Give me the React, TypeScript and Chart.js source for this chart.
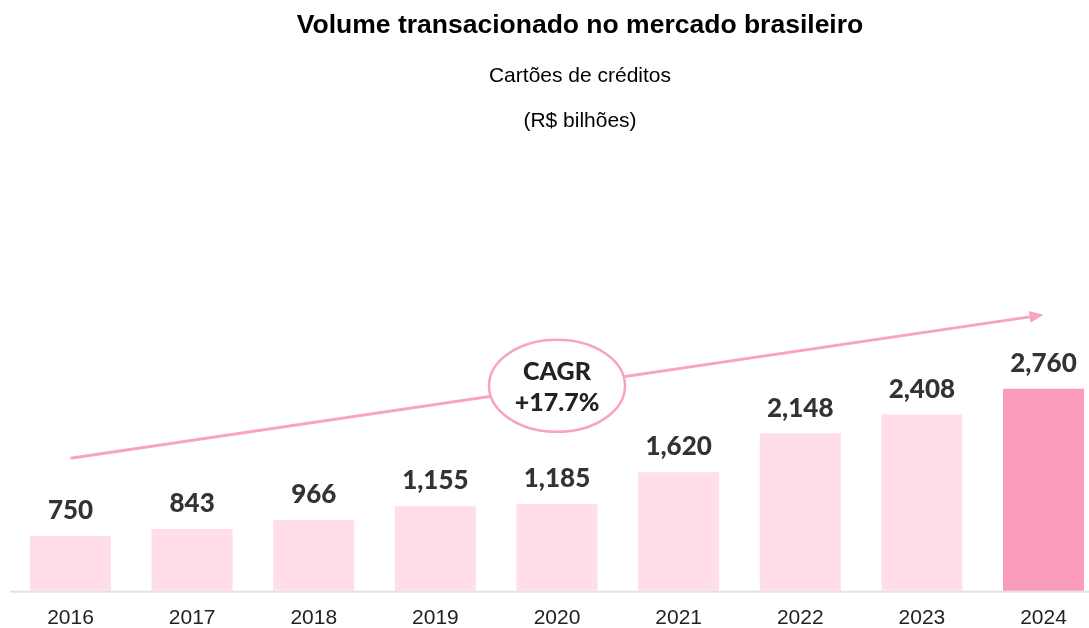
import React, { useEffect, useRef } from "react";
import { Chart, registerables } from "chart.js";

Chart.register(...registerables);

// ---- data ----
const categories = ["2016", "2017", "2018", "2019", "2020", "2021", "2022", "2023", "2024"];
const volumes = [750, 843, 966, 1155, 1185, 1620, 2148, 2408, 2760];
const lightPink = "#ffdee9";
const strongPink = "#fb9cbe";
const barColors = [lightPink, lightPink, lightPink, lightPink, lightPink, lightPink, lightPink, lightPink, strongPink];

const titleText = "Volume transacionado no mercado brasileiro";
const subtitleLines = ["Cartões de créditos", "(R$ bilhões)"];
const cagrLines = ["CAGR", "+17.7%"];

// annotation anchors in data units (category index, value)
const arrowStart = [0, 1810];
const arrowEnd = [8, 3770];
const cagrAnchor = [4, 2800];
const yMax = 4000;

const overlayPlugin = {
  id: "overlay",
  beforeDatasetsDraw(chart: any) {
    const { ctx, scales } = chart;
    const y0 = scales.y.getPixelForValue(0);
    ctx.save();
    ctx.strokeStyle = "#e3e3e3";
    ctx.lineWidth = 2;
    ctx.beginPath();
    ctx.moveTo(10, y0 + 1);
    ctx.lineTo(chart.width, y0 + 1);
    ctx.stroke();
    ctx.restore();
  },
  afterDatasetsDraw(chart: any) {
    const { ctx, scales } = chart;
    const xs = scales.x;
    const ys = scales.y;
    ctx.save();
    // value labels
    const meta = chart.getDatasetMeta(0);
    ctx.fillStyle = "#333333";
    ctx.font = "900 26px Lato, 'Open Sans', sans-serif";
    ctx.textAlign = "center";
    ctx.textBaseline = "alphabetic";
    meta.data.forEach((bar: any, i: number) => {
      ctx.fillText(volumes[i].toLocaleString("en-US"), bar.x, bar.y - 17);
    });

    // arrow
    const x1 = xs.getPixelForValue(arrowStart[0]);
    const y1 = ys.getPixelForValue(arrowStart[1]);
    const x2 = xs.getPixelForValue(arrowEnd[0]);
    const y2 = ys.getPixelForValue(arrowEnd[1]);
    const ang = Math.atan2(y2 - y1, x2 - x1);
    const headLen = 14;
    const headHalf = 6;
    ctx.strokeStyle = "#f9a3c2";
    ctx.fillStyle = "#f9a3c2";
    ctx.lineWidth = 3;
    ctx.beginPath();
    ctx.moveTo(x1, y1);
    ctx.lineTo(x2 - Math.cos(ang) * headLen, y2 - Math.sin(ang) * headLen);
    ctx.stroke();
    ctx.beginPath();
    ctx.moveTo(x2, y2);
    ctx.lineTo(
      x2 - Math.cos(ang) * headLen - Math.sin(ang) * headHalf,
      y2 - Math.sin(ang) * headLen + Math.cos(ang) * headHalf
    );
    ctx.lineTo(
      x2 - Math.cos(ang) * headLen + Math.sin(ang) * headHalf,
      y2 - Math.sin(ang) * headLen - Math.cos(ang) * headHalf
    );
    ctx.closePath();
    ctx.fill();

    // CAGR ellipse
    const cx = xs.getPixelForValue(cagrAnchor[0]);
    const cy = ys.getPixelForValue(cagrAnchor[1]);
    ctx.beginPath();
    ctx.ellipse(cx, cy, 68, 46, 0, 0, Math.PI * 2);
    ctx.fillStyle = "#ffffff";
    ctx.fill();
    ctx.lineWidth = 2.5;
    ctx.strokeStyle = "#f9a3c2";
    ctx.stroke();
    ctx.fillStyle = "#222222";
    ctx.font = "900 25px Lato, 'Open Sans', sans-serif";
    ctx.textAlign = "center";
    ctx.textBaseline = "alphabetic";
    ctx.fillText(cagrLines[0], cx, cy - 6);
    ctx.fillText(cagrLines[1], cx, cy + 25);
    ctx.restore();
  },
  afterDraw(chart: any) {
    const { ctx } = chart;
    ctx.save();
    ctx.textAlign = "center";
    ctx.textBaseline = "alphabetic";
    ctx.fillStyle = "#000000";
    ctx.font = "bold 26.5px 'Liberation Sans', Arial, sans-serif";
    ctx.fillText(titleText, 580, 33);
    ctx.font = "21px 'Liberation Sans', Arial, sans-serif";
    ctx.fillText(subtitleLines[0], 580, 82);
    ctx.fillText(subtitleLines[1], 580, 127);
    ctx.restore();
  },
};

export default function App() {
  const ref = useRef<HTMLCanvasElement | null>(null);
  useEffect(() => {
    if (!ref.current) return;
    const chart = new Chart(ref.current, {
      type: "bar",
      data: {
        labels: categories,
        datasets: [
          {
            data: volumes,
            backgroundColor: barColors,
            borderWidth: 0,
            categoryPercentage: 1,
            barPercentage: 0.666,
            clip: false as any,
          },
        ],
      },
      options: {
        animation: false,
        responsive: true,
        maintainAspectRatio: false,
        layout: { padding: { left: 70.5, right: 45.5, top: 298, bottom: 0 } },
        plugins: {
          legend: { display: false },
          tooltip: { enabled: false },
          title: { display: false },
        },
        scales: {
          x: {
            offset: false,
            grid: { display: false, drawTicks: false },
            border: { display: false },
            ticks: {
              color: "#222222",
              font: { family: "'Liberation Sans', Arial, sans-serif", size: 21 },
              padding: 15,
              maxRotation: 0,
              autoSkip: false,
            },
          },
          y: {
            display: false,
            min: 0,
            max: yMax,
          },
        },
      },
      plugins: [overlayPlugin],
    });
    return () => chart.destroy();
  }, []);
  return (
    <div style={{ position: "absolute", left: 0, top: 0, width: 1089, height: 628, overflow: "hidden" }}>
      <div style={{ position: "relative", width: 1089, height: 646 }}>
        <canvas ref={ref} />
      </div>
    </div>
  );
}
